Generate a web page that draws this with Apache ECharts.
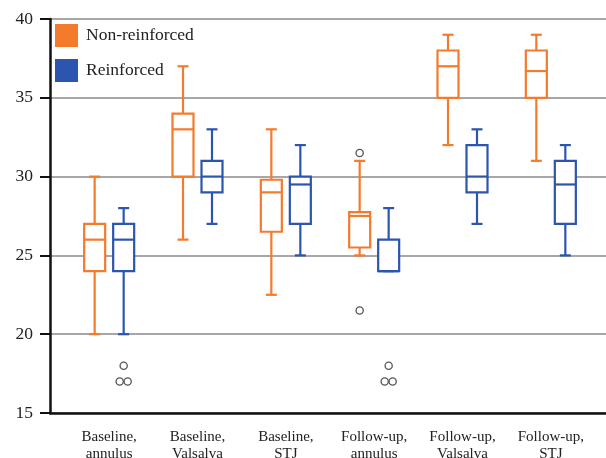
<!DOCTYPE html>
<html>
<head>
<meta charset="utf-8">
<script src="https://cdn.jsdelivr.net/npm/echarts@6/dist/echarts.min.js"></script>
<style>
html, body { margin: 0; padding: 0; background: #fff; }
#main { width: 606px; height: 458px; }
</style>
</head>
<body>
<div id="main"></div>
<script>
// categories on the x axis
var categories = ['Baseline,\nannulus', 'Baseline,\nValsalva', 'Baseline,\nSTJ',
    'Follow-up,\nannulus', 'Follow-up,\nValsalva', 'Follow-up,\nSTJ'];
// [min, Q1, median, Q3, max]
var nonReinforced = [
    [20, 24, 26, 27, 30],
    [26, 30, 33, 34, 37],
    [22.5, 26.5, 29, 29.8, 33],
    [25, 25.5, 27.5, 27.75, 31],
    [32, 35, 37, 38, 39],
    [31, 35, 36.7, 38, 39]
];
var reinforced = [
    [20, 24, 26, 27, 28],
    [27, 29, 30, 31, 33],
    [25, 27, 29.5, 30, 32],
    [24, 24, 24, 26, 28],
    [27, 29, 30, 32, 33],
    [25, 27, 29.5, 31, 32]
];
// outliers [category index, value]
var nonReinforcedOutliers = [[3, 31.5], [3, 21.5]];
var reinforcedOutliers = [[0, 18], [0, 17], [0, 17], [3, 18], [3, 17], [3, 17]];
var yTicks = [15, 20, 25, 30, 35, 40];

var ORANGE = '#F47B2C';
var BLUE = '#2B55AF';
var FONT = '"Liberation Serif", "DejaVu Serif", serif';

var chart = echarts.init(document.getElementById('main'));

function toRows(list) {
    return list.map(function (d, i) { return [i].concat(d); });
}

// box drawn at a pixel offset from the category centre
function boxRenderer(offset, color) {
    return function (params, api) {
        var c = api.value(0);
        var lo = api.coord([c, api.value(1)]);
        var q1 = api.coord([c, api.value(2)]);
        var med = api.coord([c, api.value(3)]);
        var q3 = api.coord([c, api.value(4)]);
        var hi = api.coord([c, api.value(5)]);
        var cx = lo[0] + offset;
        var hw = 10.5, cap = 5.5;
        var st = { stroke: color, lineWidth: 2.2, fill: null };
        return {
            type: 'group',
            children: [
                { type: 'line', shape: { x1: cx, y1: hi[1], x2: cx, y2: q3[1] }, style: st },
                { type: 'line', shape: { x1: cx, y1: q1[1], x2: cx, y2: lo[1] }, style: st },
                { type: 'line', shape: { x1: cx - cap, y1: hi[1], x2: cx + cap, y2: hi[1] }, style: st },
                { type: 'line', shape: { x1: cx - cap, y1: lo[1], x2: cx + cap, y2: lo[1] }, style: st },
                { type: 'rect', shape: { x: cx - hw, y: q3[1], width: hw * 2, height: q1[1] - q3[1] },
                  style: { stroke: color, lineWidth: 2.2, fill: '#fff' } },
                { type: 'line', shape: { x1: cx - hw, y1: med[1], x2: cx + hw, y2: med[1] }, style: st }
            ]
        };
    };
}

function outlierRenderer(offset, list) {
    return function (params, api) {
        var c = api.value(0), v = api.value(1);
        var p = api.coord([c, v]);
        // side by side when values repeat
        var same = [], idx = 0;
        list.forEach(function (d, i) {
            if (d[0] === c && d[1] === v) {
                if (i === params.dataIndex) idx = same.length;
                same.push(i);
            }
        });
        var dx = same.length > 1 ? (idx - (same.length - 1) / 2) * 8 : 0;
        return {
            type: 'circle',
            shape: { cx: p[0] + offset + dx, cy: p[1], r: 3.6 },
            style: { stroke: '#555', lineWidth: 1.3, fill: null }
        };
    };
}

var option = {
    backgroundColor: '#fff',
    animation: false,
    legend: {
        data: ['Non-reinforced', 'Reinforced'],
        orient: 'vertical',
        left: 50,
        top: 19,
        icon: 'rect',
        itemWidth: 23,
        itemHeight: 23,
        itemGap: 12,
        textStyle: { fontFamily: FONT, fontSize: 17.5, color: '#222', padding: [0, 0, 0, 3] }
    },
    grid: [
        { left: 50, right: 0, top: 19, bottom: 45, outerBoundsMode: 'none' },
        { left: 65, right: 11, top: 19, bottom: 45, outerBoundsMode: 'none' }
    ],
    xAxis: [
        {
            gridIndex: 0, type: 'category', data: categories,
            axisLine: { lineStyle: { color: '#111', width: 2.5 } },
            axisTick: { show: false }, axisLabel: { show: false }, splitLine: { show: false }
        },
        {
            gridIndex: 1, type: 'category', data: categories,
            axisLine: { show: false },
            axisTick: { alignWithLabel: true, length: 8, lineStyle: { color: '#111', width: 2 } },
            axisLabel: { fontFamily: FONT, fontSize: 15, color: '#222', margin: 16, lineHeight: 17 },
            splitLine: { show: false }
        }
    ],
    yAxis: [
        {
            gridIndex: 0, type: 'value', min: yTicks[0], max: yTicks[yTicks.length - 1], interval: 5,
            axisLine: { show: true, lineStyle: { color: '#111', width: 2.5 } },
            axisTick: { show: true, length: 10, lineStyle: { color: '#111', width: 2 } },
            axisLabel: { fontFamily: FONT, fontSize: 17.5, color: '#222', margin: 17 },
            splitLine: { lineStyle: { color: '#8a8a8a', width: 1.5 } }
        },
        {
            gridIndex: 1, type: 'value', min: yTicks[0], max: yTicks[yTicks.length - 1], interval: 5,
            show: false, splitLine: { show: false }
        }
    ],
    series: [
        {
            name: 'Non-reinforced', type: 'custom', xAxisIndex: 1, yAxisIndex: 1,
            itemStyle: { color: ORANGE },
            renderItem: boxRenderer(-14.5, ORANGE),
            encode: { x: 0, y: [1, 2, 3, 4, 5] },
            data: toRows(nonReinforced), z: 3
        },
        {
            name: 'Reinforced', type: 'custom', xAxisIndex: 1, yAxisIndex: 1,
            itemStyle: { color: BLUE },
            renderItem: boxRenderer(14.5, BLUE),
            encode: { x: 0, y: [1, 2, 3, 4, 5] },
            data: toRows(reinforced), z: 3
        },
        {
            name: 'Non-reinforced outliers', type: 'custom', xAxisIndex: 1, yAxisIndex: 1,
            renderItem: outlierRenderer(-14.5, nonReinforcedOutliers),
            encode: { x: 0, y: 1 },
            data: nonReinforcedOutliers, z: 4
        },
        {
            name: 'Reinforced outliers', type: 'custom', xAxisIndex: 1, yAxisIndex: 1,
            renderItem: outlierRenderer(14.5, reinforcedOutliers),
            encode: { x: 0, y: 1 },
            data: reinforcedOutliers, z: 4
        }
    ]
};

chart.setOption(option);
</script>
</body>
</html>
